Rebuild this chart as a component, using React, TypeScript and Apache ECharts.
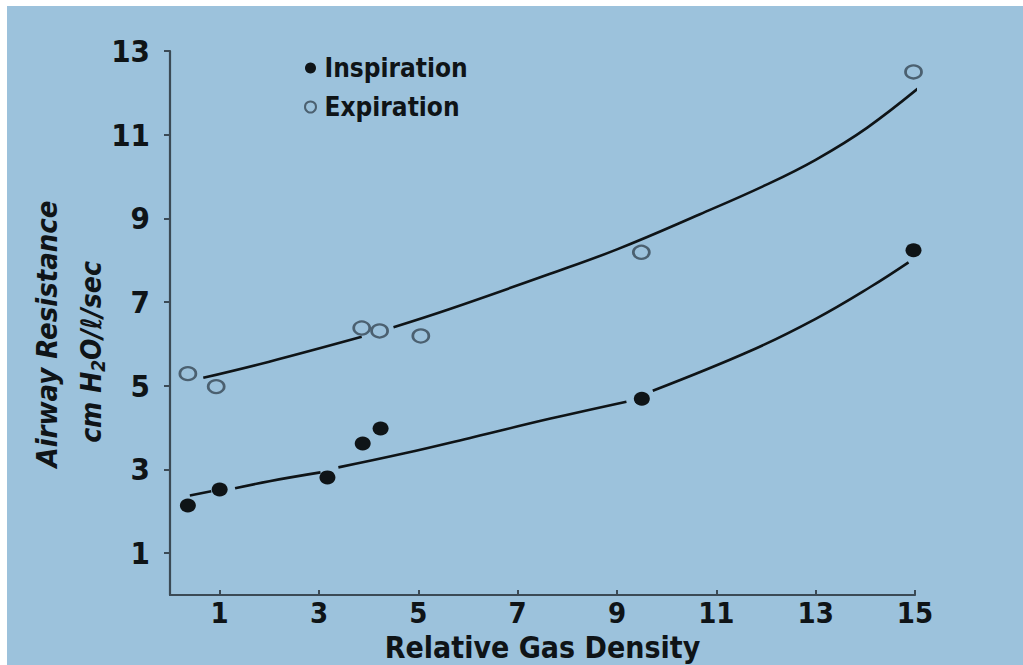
import React, { useEffect, useRef } from "react";
import * as echarts from "echarts";

// ---- data ----
const xTicks = [1, 3, 5, 7, 9, 11, 13, 15];
const yTicks = [1, 3, 5, 7, 9, 11, 13];

const inspirationX = [0.36, 1.0, 3.17, 3.88, 4.24, 9.5, 14.97];
const inspirationY = [2.14, 2.52, 2.81, 3.62, 3.98, 4.69, 8.24];
const expirationX = [0.36, 0.93, 3.86, 4.22, 5.05, 9.49, 14.97];
const expirationY = [5.29, 4.98, 6.38, 6.31, 6.19, 8.19, 12.5];

// hand-drawn fitted curves (segments, with the gaps of the original)
const inspirationCurve = [
  [[0.4, 2.38], [0.83, 2.48]],
  [[1.31, 2.55], [2.0, 2.72], [3.03, 2.93]],
  [[3.39, 3.05], [4.7, 3.38], [6.1, 3.77], [7.64, 4.21], [9.19, 4.62]],
  [[9.72, 4.88], [11.68, 5.83], [13.0, 6.6], [14.1, 7.36], [14.87, 7.95]],
];
const expirationCurve = [
  [[0.67, 5.19], [1.98, 5.57], [3.86, 6.17]],
  [[4.5, 6.4], [5.62, 6.83], [7.64, 7.67], [9.0, 8.26], [10.67, 9.1], [12.0, 9.8], [13.0, 10.4], [14.04, 11.17], [15.27, 12.31]],
];

const BG = "#9cc2dc";
const INK = "#0f1417";
const AXIS = "#3b4a55";
const COND = "'DejaVu Sans Condensed', 'DejaVu Sans', sans-serif";

export default function App() {
  const ref = useRef<HTMLDivElement>(null);
  useEffect(() => {
    if (!ref.current) return;
    const chart = echarts.init(ref.current, undefined, { renderer: "svg" });
    const zip = (xs: number[], ys: number[]) => xs.map((x, i) => [x, ys[i]]);
    const curveSeries = (segs: number[][][], name: string) =>
      segs.map((seg) => ({
        type: "line",
        name: name + " fit",
        data: seg,
        smooth: 0.4,
        showSymbol: false,
        symbol: "none",
        clip: false,
        silent: true,
        lineStyle: { color: INK, width: 2.6 },
        z: 2,
      }));
    chart.setOption({
      animation: false,
      backgroundColor: "#ffffff",
      graphic: [
        { type: "rect", z: -10, shape: { x: 7, y: 6, width: 1016, height: 659 }, style: { fill: BG } },
        {
          type: "text",
          x: 47,
          y: 334,
          rotation: Math.PI / 2,
          style: {
            text: "Airway Resistance",
            font: `italic bold 29px ${COND}`,
            fill: INK,
            align: "center",
            verticalAlign: "middle",
          },
        },
        {
          type: "text",
          x: 91,
          y: 352,
          rotation: Math.PI / 2,
          style: {
            text: "{a|cm H}{s|2}{a|O/ℓ/sec}",
            align: "center",
            verticalAlign: "middle",
            rich: {
              a: { font: `italic bold 28px ${COND}`, fill: INK, color: INK },
              s: { font: `italic bold 19px ${COND}`, fill: INK, color: INK, padding: [14, 0, 0, 0] },
            },
          },
        },
      ],
      legend: {
        orient: "vertical",
        left: 299,
        top: 50,
        itemGap: 13,
        itemWidth: 12,
        itemHeight: 11,
        data: ["Inspiration", "Expiration"],
        textStyle: { fontFamily: COND, fontWeight: "bold", fontSize: 26, color: INK, padding: [0, 0, 0, 3] },
      },
      grid: { left: 170, right: 108, top: 51, bottom: 70, outerBoundsMode: "none", containLabel: false },
      xAxis: {
        type: "value",
        min: 0,
        max: 15,
        name: "Relative Gas Density",
        nameLocation: "middle",
        nameGap: 37,
        nameMoveOverlap: false,
        nameTextStyle: { fontFamily: COND, fontWeight: "bold", fontSize: 30, color: INK },
        axisLine: { show: true, lineStyle: { color: AXIS, width: 2.2 } },
        axisTick: { show: true, inside: true, length: 5, customValues: xTicks, lineStyle: { color: AXIS, width: 2 } },
        axisLabel: {
          customValues: xTicks,
          margin: 3,
          fontFamily: COND,
          fontWeight: "bold",
          fontSize: 29,
          color: INK,
        },
        splitLine: { show: false },
      },
      yAxis: {
        type: "value",
        min: 0,
        max: 13,
        axisLine: { show: true, lineStyle: { color: AXIS, width: 2.2 } },
        axisTick: { show: true, inside: false, length: 6, customValues: yTicks, lineStyle: { color: AXIS, width: 2 } },
        axisLabel: {
          customValues: yTicks,
          margin: 20,
          fontFamily: COND,
          fontWeight: "bold",
          fontSize: 31,
          color: INK,
        },
        splitLine: { show: false },
      },
      series: [
        ...curveSeries(inspirationCurve, "Inspiration"),
        ...curveSeries(expirationCurve, "Expiration"),
        {
          type: "scatter",
          name: "Inspiration",
          data: zip(inspirationX, inspirationY),
          symbol: "circle",
          symbolSize: [16, 14],
          itemStyle: { color: INK, borderColor: INK, borderWidth: 0, opacity: 1 },
          z: 5,
        },
        {
          type: "scatter",
          name: "Expiration",
          data: zip(expirationX, expirationY),
          symbol: "circle",
          symbolSize: [16, 13],
          itemStyle: { color: "rgba(0,0,0,0)", borderColor: "#4b6070", borderWidth: 2.5, opacity: 1 },
          z: 5,
        },
      ],
    });
    return () => chart.dispose();
  }, []);
  return <div ref={ref} style={{ position: "fixed", left: 0, top: 0, width: 1023, height: 665 }} />;
}
